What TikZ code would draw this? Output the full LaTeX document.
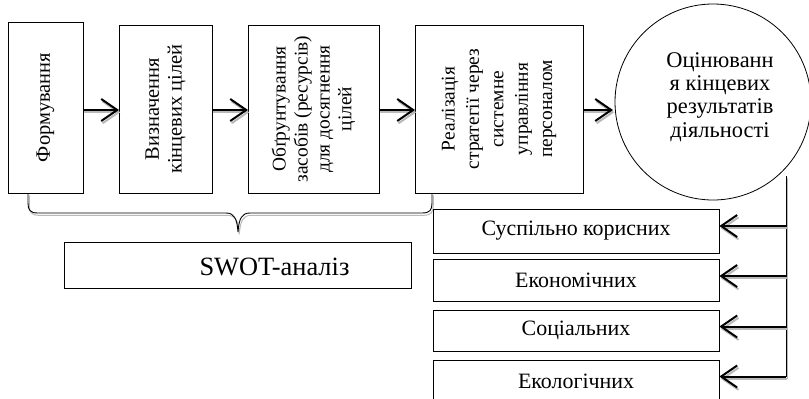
\documentclass[tikz,border=0pt]{standalone}
\usepackage{fontspec}
\setmainfont{Liberation Serif}
\usetikzlibrary{arrows.meta}
\tikzset{
  box/.style={draw, line width=0.8bp, inner sep=0pt, align=center},
  vbox/.style={box, rotate=90},
  arr/.style={-{Straight Barb[length=16bp,width=22bp]}, line width=2bp},
  shadowline/.style={gray!55, transform canvas={shift={(1.3bp,-2.3bp)}}},
  vfont/.style={font=\fontsize{20.5}{23}\selectfont},
  rfont/.style={font=\fontsize{22}{24}\selectfont},
}
\newcommand\sarrow[2]{%
  \draw[arr, shadowline] #1 -- #2;
  \draw[arr] #1 -- #2;}
\newcommand\bracepath{(brl) -- (28,203) .. controls (28,210) and (30,213) .. (38,213) -- (226,213)
  .. controls (234,213) and (237,218) .. (brt)
  .. controls (239,218) and (242,213) .. (250,213) -- (422,213)
  .. controls (430,213) and (432,210) .. (432,203) -- (brr)}
\begin{document}
\begin{tikzpicture}[x=1bp, y=-1bp]
\useasboundingbox (0,0) rectangle (809,398);
\clip (0,0) rectangle (809,398);
% top row boxes
\node[vbox, vfont, minimum width=171bp, minimum height=75bp] (b1) at (45.5,107.5) {Формування};
\node[vbox, vfont, minimum width=168bp, minimum height=93bp] (b2) at (165.5,109) {Визначення\\кінцевих цілей};
\node[vbox, minimum width=168bp, minimum height=131bp, font=\fontsize{19.5}{22}\selectfont] (b3) at (313.5,109) {Обґрунтування\\засобів (ресурсів)\\для досягнення\\цілей};
\node[vbox, minimum width=168bp, minimum height=168bp, font=\fontsize{19.5}{24.5}\selectfont] (b4) at (499,109) {Реалізація\\стратегії через\\системне\\управління\\персоналом};
\node[box, circle, minimum size=196bp] (ev) at (713,102) {};
\node[align=center, inner sep=0pt, font=\fontsize{22.5}{23.5}\selectfont] (evt) at (720,97) {Оцінюванн\\я кінцевих\\результатів\\діяльності};
% arrows between top boxes
\coordinate (r1) at (83,110);
\coordinate (l2) at (119,110);
\coordinate (r2) at (212,110);
\coordinate (l3) at (248,110);
\coordinate (r3) at (379,110);
\coordinate (l4) at (415,110);
\coordinate (r4) at (583,110);
\coordinate (lc) at (613,110);
\sarrow{(r1)}{(l2)}
\sarrow{(r2)}{(l3)}
\sarrow{(r3)}{(l4)}
\sarrow{(r4)}{(lc)}
% brace
\coordinate (brl) at (28,193);
\coordinate (brr) at (432,193);
\coordinate (brt) at (238,232);
\draw[shadowline, line width=1bp] \bracepath;
\draw[line width=0.9bp] \bracepath;
% SWOT
\node[box, minimum width=347bp, minimum height=46bp,
  label={[font=\fontsize{26.5}{28}\selectfont, xshift=37bp, yshift=-2bp]center:SWOT-аналіз}] (swot) at (237.5,265) {};
% right boxes
\node[box, rfont, minimum width=286bp, minimum height=44bp] (ra) at (576,231) {Суспільно корисних};
\node[box, rfont, minimum width=286bp, minimum height=42bp] (rb) at (576,280) {Економічних};
\node[box, rfont, minimum width=286bp, minimum height=41bp] (rc) at (576,330.5) {Соціальних};
\node[box, rfont, minimum width=286bp, minimum height=42bp] (rd) at (576,381) {Екологічних};
% vertical feed line
\coordinate (vt) at (786,176);
\coordinate (vb) at (786,377);
\draw[line width=1bp, shadowline] (vt) -- (vb);
\draw[line width=1bp] (vt) -- (vb);
\coordinate (fa) at (786,226);
\coordinate (fb) at (786,276);
\coordinate (fc) at (786,326.5);
\coordinate (fd) at (786,376.5);
\sarrow{(fa)}{(fa -| ra.east)}
\sarrow{(fb)}{(fb -| rb.east)}
\sarrow{(fc)}{(fc -| rc.east)}
\sarrow{(fd)}{(fd -| rd.east)}
\end{tikzpicture}
\end{document}
